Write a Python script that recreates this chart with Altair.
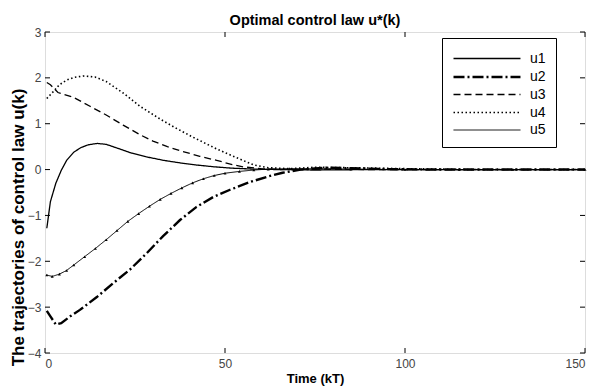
import altair as alt
import pandas as pd

names = ["u1", "u2", "u3", "u4", "u5"]

t1 = [0.5, 1.5, 3, 4.5, 6, 8, 10, 12, 14.5, 17, 20, 24, 28, 33, 38, 42, 47, 52, 58, 65, 75, 90, 110, 130, 150]
u1 = [-1.28, -0.7, -0.3, -0.02, 0.2, 0.38, 0.48, 0.54, 0.57, 0.55, 0.47, 0.36, 0.28, 0.2, 0.14, 0.1, 0.06, 0.03, 0.01, 0.0, -0.01, 0.0, 0.0, 0.0, 0.0]

t2 = [0.5, 1.5, 3, 4.5, 7, 9.7, 14.4, 18.9, 23.6, 28.3, 32.8, 37.5, 42, 46.7, 51.4, 57, 62, 66, 71, 78, 85, 95, 110, 130, 150]
u2 = [-3.08, -3.2, -3.38, -3.35, -3.2, -3.06, -2.78, -2.48, -2.18, -1.82, -1.45, -1.1, -0.82, -0.6, -0.44, -0.27, -0.15, -0.07, 0.0, 0.04, 0.03, 0.01, 0.0, 0.0, 0.0]

t3 = [0.5, 1.5, 3.6, 7.8, 12.5, 17, 21.7, 26.4, 30, 34, 38, 43, 47.7, 52, 55, 60, 65, 75, 90, 110, 130, 150]
u3 = [1.9, 1.85, 1.68, 1.58, 1.38, 1.19, 0.97, 0.76, 0.62, 0.5, 0.4, 0.29, 0.2, 0.11, 0.06, 0.02, 0.0, 0.01, 0.0, 0.0, 0.0, 0.0]

t4 = [0.5, 2.3, 4, 6, 8, 10.6, 13.9, 17, 21.7, 26.4, 29.2, 32, 36, 41, 47.7, 52, 55, 58, 62, 68, 75, 85, 100, 120, 150]
u4 = [1.55, 1.7, 1.85, 1.95, 2.01, 2.04, 2.02, 1.92, 1.67, 1.38, 1.24, 1.1, 0.92, 0.71, 0.45, 0.3, 0.2, 0.1, 0.04, 0.02, 0.05, 0.04, 0.02, 0.0, 0.0]

t5 = [0.5, 2, 4, 6, 8, 11, 14, 17, 20, 23, 26, 29, 32, 35, 38, 41, 44, 47, 50, 54, 58, 62, 68, 75, 85, 100, 115, 130, 150]
u5 = [-2.3, -2.33, -2.28, -2.2, -2.08, -1.9, -1.72, -1.53, -1.33, -1.13, -0.96, -0.8, -0.65, -0.52, -0.4, -0.29, -0.2, -0.13, -0.08, -0.04, -0.01, 0.01, 0.02, 0.02, 0.01, 0.0, 0.0, 0.0, 0.0]

x_ticks = [0, 50, 100, 150]
y_ticks = [-4, -3, -2, -1, 0, 1, 2, 3]

dashes = [[1, 0], [11, 3, 2, 3], [7, 4], [1.5, 2.5], [1, 0]]
widths = [1.3, 2.4, 1.3, 1.6, 1.0]

frames = []
for n, t, u in zip(names, [t1, t2, t3, t4, t5], [u1, u2, u3, u4, u5]):
    frames.append(pd.DataFrame({"t": t, "u": u, "series": n}))
df = pd.concat(frames, ignore_index=True)

W, H = 540, 321
FONT = "Liberation Sans"

xscale = alt.Scale(domain=[0, 150], nice=False)
yscale = alt.Scale(domain=[-4, 3], nice=False)

x_axis = alt.Axis(
    values=x_ticks, title="Time (kT)", ticks=False, domain=False, grid=False,
    labelPadding=5, titlePadding=3, labelFontSize=12, labelColor="#444",
    titleFontSize=13, titleFontWeight="bold", labelFont=FONT, titleFont=FONT,
    titleColor="black")
y_axis = alt.Axis(
    values=y_ticks, title="The trajectories of control law u(k)", ticks=False,
    domain=False, grid=False, labelPadding=4, labelFontSize=12,
    labelColor="#444", titleFontSize=17, titleFontWeight="bold", labelFont=FONT,
    titleFont=FONT, titleColor="black", titleX=-18, titleY=195)

x_enc = alt.X("t:Q", scale=xscale, axis=x_axis)
y_enc = alt.Y("u:Q", scale=yscale, axis=y_axis)

leg = alt.Legend(title=None, orient="none", legendX=397, legendY=6,
                 symbolType="M-1,0H6.05", symbolSize=361, symbolStrokeColor="black",
                 labelFontSize=14, labelFont=FONT, labelColor="black",
                 strokeColor="black", padding=10, rowPadding=0, labelOffset=56,
                 fillColor="white")

lines = alt.Chart(df).mark_line(color="black").encode(
    x=x_enc, y=y_enc,
    strokeDash=alt.StrokeDash("series:N", scale=alt.Scale(domain=names, range=dashes), legend=leg),
    strokeWidth=alt.StrokeWidth("series:N", scale=alt.Scale(type="ordinal", domain=names, range=widths), legend=leg),
    detail="series:N",
)

markers = alt.Chart(df[df["series"] == "u5"]).mark_point(
    shape="triangle-up", filled=True, color="black", size=9, opacity=1
).encode(x=x_enc, y=y_enc)

ydf = pd.DataFrame({"u": y_ticks})
xdf = pd.DataFrame({"t": x_ticks})
ytl = alt.Chart(ydf).mark_rule(color="black").encode(
    y=y_enc, x=alt.value(0), x2=alt.value(5))
ytr = alt.Chart(ydf).mark_rule(color="black").encode(
    y=y_enc, x=alt.value(W - 5), x2=alt.value(W))
xtb = alt.Chart(xdf).mark_rule(color="black").encode(
    x=x_enc, y=alt.value(H - 5), y2=alt.value(H))
xtt = alt.Chart(xdf).mark_rule(color="black").encode(
    x=x_enc, y=alt.value(0), y2=alt.value(5))

chart = alt.layer(lines, markers, ytl, ytr, xtb, xtt).properties(
    width=W, height=H,
    title=alt.TitleParams("Optimal control law u*(k)", fontSize=14.5, fontWeight="bold",
                          font=FONT, color="black", offset=-2),
    autosize=alt.AutoSizeParams(type="none"),
    padding={"left": 37, "top": 24, "right": 14, "bottom": 34},
).configure_view(stroke="black", strokeWidth=1.2).configure(background="white")

chart.save("out.html", embed_options={"renderer": "svg", "actions": False})
